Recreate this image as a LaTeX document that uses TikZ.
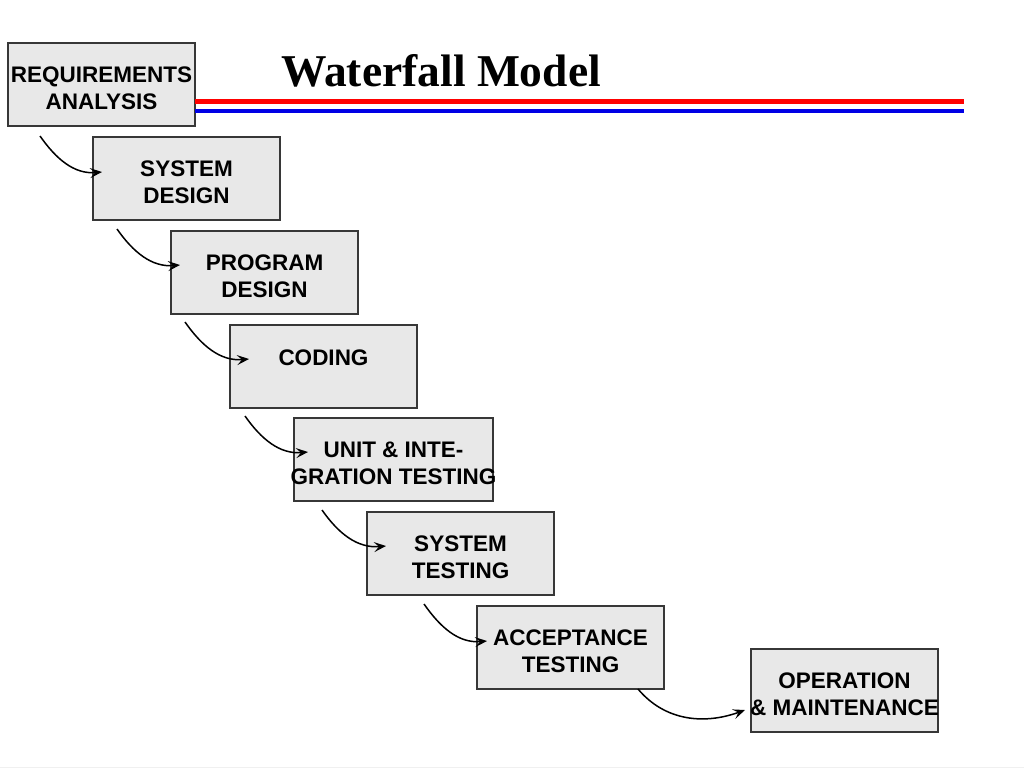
\documentclass[tikz,border=0pt]{standalone}
\usepackage{fontspec}
\newfontfamily\boxfont{Liberation Sans}
\newfontfamily\titlefont{Liberation Serif}
\usetikzlibrary{arrows.meta, positioning}
\definecolor{stagefill}{RGB}{232,232,232}
\definecolor{stageline}{RGB}{55,55,55}
\newcommand\topgap{\rule{0pt}{24pt}}
\tikzset{%
  stage/.style={
    draw=stageline,
    line width=1.8pt,
    fill=stagefill,
    rectangle,
    minimum width=187pt,
    minimum height=83pt,
    inner sep=0pt,
    outer sep=0pt,
    align=center,
    font=\boxfont\bfseries\fontsize{22.5}{27}\selectfont
  },
  flow/.style={line width=1.5pt, -{Stealth[length=12pt,width=10pt,inset=5pt]}},
  redrule/.style={draw=red, line width=4.5pt},
  bluerule/.style={draw=blue!90!black, line width=4pt},
  title/.style={font=\titlefont\bfseries\fontsize{45.5}{50}\selectfont, inner sep=0pt}
}

\begin{document}
\begin{tikzpicture}[x=1pt, y=-1pt]
  \useasboundingbox (0,0) rectangle (1024,768);

  \node[stage, anchor=north west] (req) at (8,43) {\topgap REQUIREMENTS\\ANALYSIS};
  \node[stage, below right=11pt and -102pt of req] (sysdes) {\topgap SYSTEM\\DESIGN};
  \node[stage, below right=11pt and -109pt of sysdes] (progdes) {\topgap PROGRAM\\DESIGN};
  \node[stage, below right=11pt and -128pt of progdes] (coding) {\topgap CODING\\\mbox{}};
  \node[stage, minimum width=199pt, below right=10pt and -123pt of coding] (unit) {\topgap UNIT \& INTE-\\\makebox[0pt]{GRATION TESTING}};
  \node[stage, below right=11pt and -126pt of unit] (systest) {\topgap SYSTEM\\TESTING};
  \node[stage, below right=11pt and -77pt of systest] (accept) {\topgap ACCEPTANCE\\TESTING};
  \node[stage, below right=-40pt and 87pt of accept] (oper) {\topgap OPERATION\\\makebox[0pt]{\& MAINTENANCE}};

  \node[title, anchor=base west] (head) at (281,86) {Waterfall Model};
  \draw[redrule] ([yshift=-17pt]req.east) -- ++(769,0);
  \draw[bluerule] ([yshift=-26pt]req.east) -- ++(769,0);

  % falling arrows
  \draw[flow] ([xshift=32pt,yshift=-10pt]req.south west) to[out=-55,in=185] ([xshift=9pt,yshift=-35pt]sysdes.north west);
  \draw[flow] ([xshift=24pt,yshift=-9pt]sysdes.south west) to[out=-55,in=185] ([xshift=9pt,yshift=-34pt]progdes.north west);
  \draw[flow] ([xshift=14pt,yshift=-8pt]progdes.south west) to[out=-55,in=185] ([xshift=19pt,yshift=-34pt]coding.north west);
  \draw[flow] ([xshift=15pt,yshift=-8pt]coding.south west) to[out=-55,in=185] ([xshift=14pt,yshift=-34pt]unit.north west);
  \draw[flow] ([xshift=28pt,yshift=-9pt]unit.south west) to[out=-55,in=185] ([xshift=19pt,yshift=-34pt]systest.north west);
  \draw[flow] ([xshift=57pt,yshift=-9pt]systest.south west) to[out=-55,in=185] ([xshift=10pt,yshift=-35pt]accept.north west);
  \draw[flow] ([xshift=161pt]accept.south west) to[out=-50,in=200] ([xshift=-6pt,yshift=-61pt]oper.north west);

  \draw[gray!12, line width=1pt] (0,767) -- (1024,767);
\end{tikzpicture}
\end{document}
